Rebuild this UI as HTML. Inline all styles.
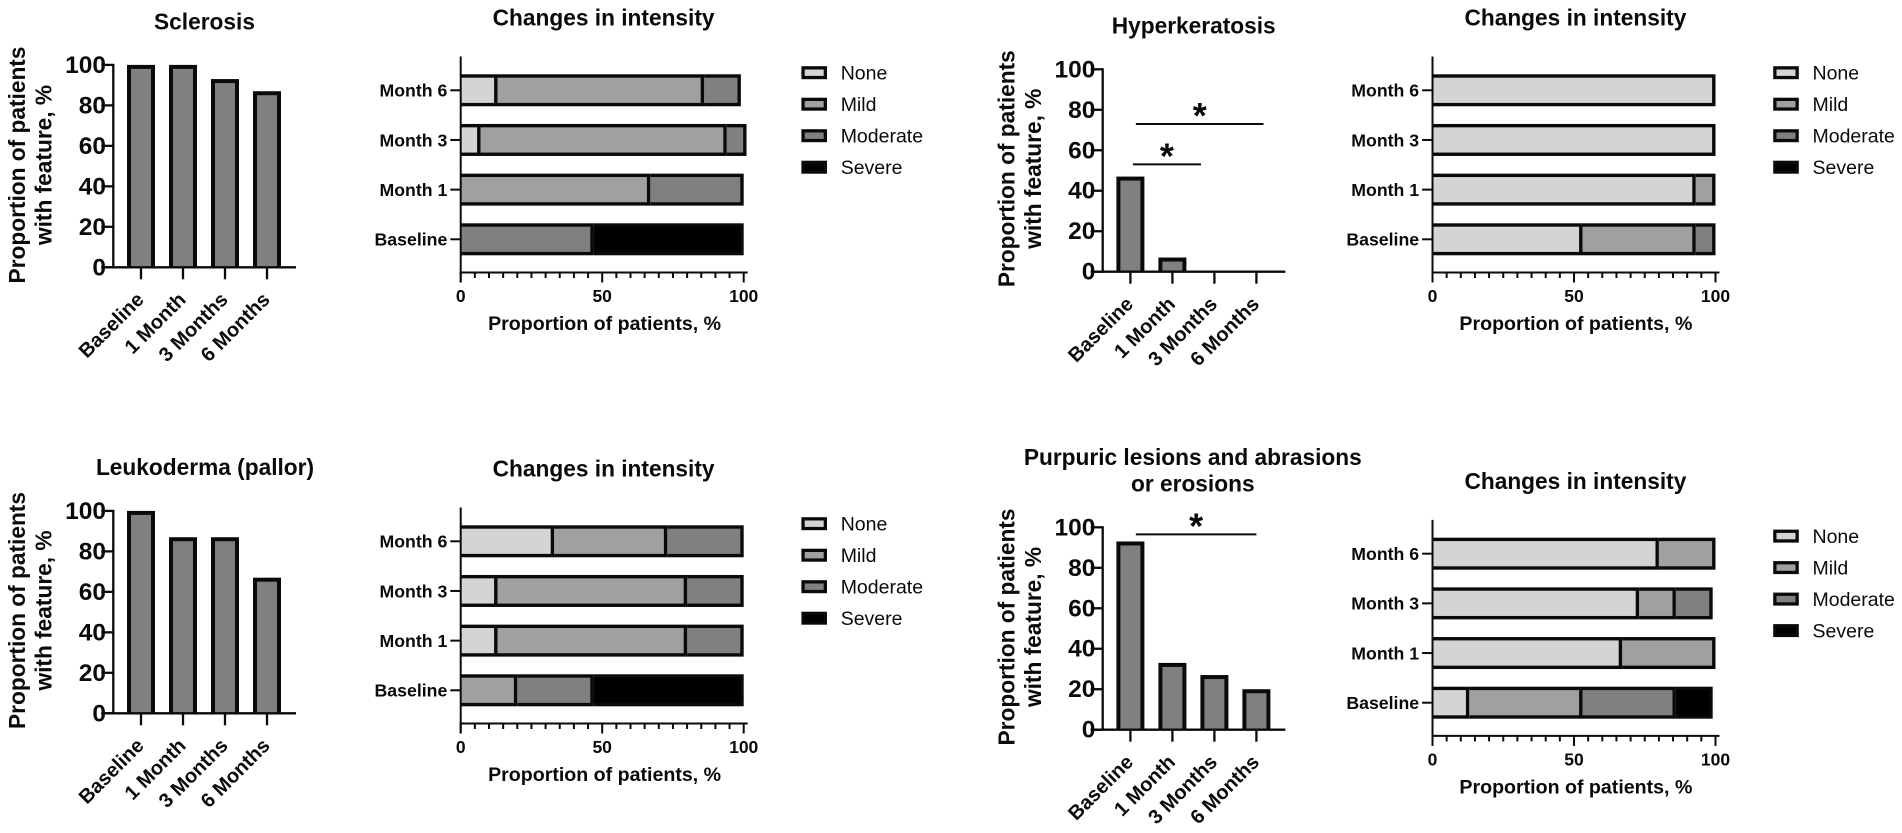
<!DOCTYPE html>
<html lang="en">
<head>
<meta charset="utf-8">
<title>Changes in skin features over time</title>
<style>
html,body{margin:0;padding:0;background:#fff;width:1902px;height:833px;overflow:hidden}
svg{display:block}
text{font-family:"Liberation Sans",Arial,sans-serif;fill:#0a0a0a}
.title{font-size:22.7px;font-weight:bold;text-anchor:middle}
.ytitle{font-size:22.7px;font-weight:bold;text-anchor:middle}
.xtitle{font-size:19.6px;font-weight:bold;text-anchor:middle}
.ytick{font-size:24.5px;font-weight:bold;text-anchor:end}
.xcat{font-size:20px;font-weight:bold;text-anchor:end}
.hcat{font-size:17.7px;font-weight:bold;text-anchor:end}
.htick{font-size:17.5px;font-weight:bold;text-anchor:middle}
.legend{font-size:19.5px}
.star{font-size:36px;font-weight:bold;text-anchor:middle}
</style>
</head>
<body>
<svg id="fig" xmlns="http://www.w3.org/2000/svg" width="1902" height="833" viewBox="0 0 1902 833">
  <rect x="0" y="0" width="1902" height="833" fill="#fff"/>

  <g id="p-scl">
    <text class="title" x="204.5" y="29.3">Sclerosis</text>
    <text class="ytitle" transform="translate(25,165) rotate(-90)">Proportion of patients</text>
    <text class="ytitle" transform="translate(51.7,165) rotate(-90)">with feature, %</text>
  </g>
  <g id="s-scl">
    <text class="title" x="603.6" y="25.7">Changes in intensity</text>
    <text class="xtitle" x="604.6" y="330">Proportion of patients, %</text>
  </g>

  <g id="p-hyp">
    <text class="title" x="1193.7" y="33.3">Hyperkeratosis</text>
    <text class="ytitle" transform="translate(1014.3,168.7) rotate(-90)">Proportion of patients</text>
    <text class="ytitle" transform="translate(1041,168.7) rotate(-90)">with feature, %</text>
  </g>
  <g id="s-hyp">
    <text class="title" x="1575.4" y="25.7">Changes in intensity</text>
    <text class="xtitle" x="1575.9" y="330">Proportion of patients, %</text>
  </g>

  <g id="p-leu">
    <text class="title" x="205" y="475">Leukoderma (pallor)</text>
    <text class="ytitle" transform="translate(25,610.5) rotate(-90)">Proportion of patients</text>
    <text class="ytitle" transform="translate(51.7,610.5) rotate(-90)">with feature, %</text>
  </g>
  <g id="s-leu">
    <text class="title" x="603.6" y="476.7">Changes in intensity</text>
    <text class="xtitle" x="604.6" y="781">Proportion of patients, %</text>
  </g>

  <g id="p-pur">
    <text class="title" x="1192.8" y="465">Purpuric lesions and abrasions</text>
    <text class="title" x="1192.8" y="491.7">or erosions</text>
    <text class="ytitle" transform="translate(1014.3,627) rotate(-90)">Proportion of patients</text>
    <text class="ytitle" transform="translate(1041,627) rotate(-90)">with feature, %</text>
  </g>
  <g id="s-pur">
    <text class="title" x="1575.4" y="489.1">Changes in intensity</text>
    <text class="xtitle" x="1575.9" y="793.4">Proportion of patients, %</text>
  </g>
</svg>

<script>
// ---- shared categories and tick labels ----
const timeCategories = ['Baseline', '1 Month', '3 Months', '6 Months'];
const visitCategories = ['Baseline', 'Month 1', 'Month 3', 'Month 6'];
const proportionTicks = [0, 20, 40, 60, 80, 100];
const intensityMajorTicks = [0, 50, 100];
const intensityMinorStep = 5;
const severityNames = ['None', 'Mild', 'Moderate', 'Severe'];
const severityColors = ['#d4d4d4', '#a0a0a2', '#808080', '#000000'];

// ---- proportion with feature, % ----
const sclerosisValues = [100, 100, 93, 87];
const hyperkeratosisValues = [47, 7, 0, 0];
const leukodermaValues = [100, 87, 87, 67];
const purpuricValues = [93, 33, 27, 20];

// ---- intensity, % of patients (Baseline, Month 1, Month 3, Month 6) ----
const sclerosisNone = [0, 0, 7, 13];
const sclerosisMild = [0, 67, 87, 73];
const sclerosisModerate = [47, 33, 7, 13];
const sclerosisSevere = [53, 0, 0, 0];

const hyperkeratosisNone = [53, 93, 100, 100];
const hyperkeratosisMild = [40, 7, 0, 0];
const hyperkeratosisModerate = [7, 0, 0, 0];
const hyperkeratosisSevere = [0, 0, 0, 0];

const leukodermaNone = [0, 13, 13, 33];
const leukodermaMild = [20, 67, 67, 40];
const leukodermaModerate = [27, 20, 20, 27];
const leukodermaSevere = [53, 0, 0, 0];

const purpuricNone = [13, 67, 73, 80];
const purpuricMild = [40, 33, 13, 20];
const purpuricModerate = [33, 0, 13, 0];
const purpuricSevere = [13, 0, 0, 0];

// ---- significance brackets: [from category, to category, level %] ----
const hyperkeratosisBrackets = [[0.13, 3.17, 73], [0.06, 1.68, 53]];
const purpuricBrackets = [[0.13, 3.0, 96.5]];

const NS = 'http://www.w3.org/2000/svg';
function make(parent, tag, attrs, txt) {
  const el = document.createElementNS(NS, tag);
  for (const k in attrs) el.setAttribute(k, attrs[k]);
  if (txt !== undefined) el.textContent = txt;
  parent.appendChild(el);
  return el;
}
function line(parent, x1, y1, x2, y2, w) {
  return make(parent, 'line', {x1: x1, y1: y1, x2: x2, y2: y2, stroke: '#0a0a0a', 'stroke-width': w});
}

function drawBarChart(id, prefix, values, brackets, x0, y0) {
  const g = document.getElementById(id);
  const plotH = 202.4, firstCat = 27.7, catStep = 42, barW = 28, border = 4;
  const yScale = v => y0 - v * plotH / 100;
  const xScale = i => x0 + firstCat + i * catStep;

  values.forEach((v, i) => {
    const outer = make(g, 'rect', {x: xScale(i) - barW / 2, y: yScale(v), width: barW, height: y0 - yScale(v), fill: '#0a0a0a'});
    
    
    const inner = make(g, 'rect', {x: xScale(i) - barW / 2 + border, y: Math.min(yScale(v) + border, y0), width: barW - 2 * border, height: Math.max(y0 - yScale(v) - border, 0), fill: '#808080'});
    
    
  });

  const yAxis = line(g, x0, yScale(100) - 1, x0, y0 + 1, 2.3);
  
  
  const xAxis = line(g, x0 - 12, y0, x0 + 182.7, y0, 2.3);
  
  

  proportionTicks.forEach(t => {
    const tick = line(g, x0 - 12, yScale(t), x0, yScale(t), 2.3);
    
    
    const lab = make(g, 'text', {'class': 'ytick', x: x0 - 7.3, y: yScale(t) + 8}, t);
    
    
  });

  timeCategories.forEach((c, i) => {
    const tick = line(g, xScale(i), y0, xScale(i), y0 + 12, 2.3);
    
    
    const lab = make(g, 'text', {'class': 'xcat', transform: 'translate(' + (xScale(i) + 4) + ',' + (y0 + 33.5) + ') rotate(-45)'}, c);
    
    
  });

  brackets.forEach((b, i) => {
    const y = yScale(b[2]);
    const br = line(g, xScale(b[0]), y, xScale(b[1]), y, 2);
    
    
    const st = make(g, 'text', {'class': 'star', x: (xScale(b[0]) + xScale(b[1])) / 2, y: y + 4}, '*');
    
    
  });
}

function drawStackedChart(id, prefix, series, x0, axisY) {
  const g = document.getElementById(id);
  const plotW = 283, rowStep = 49.67, barH = 32, border = 3.4;
  const xScale = v => x0 + v * plotW / 100;
  const rowY = i => axisY - 33.2 - i * rowStep;

  visitCategories.forEach((c, r) => {
    let cum = 0;
    series.forEach((vals, s) => {
      const v = vals[r];
      if (v <= 0) return;
      const a = cum, b = cum + v;
      cum = b;
      const top = rowY(r) - barH / 2;
      const seg = make(g, 'rect', {x: xScale(a), y: top, width: xScale(b) - xScale(a), height: barH, fill: '#0a0a0a'});
      
      
      const fillEl = make(g, 'rect', {x: xScale(a), y: top + border, width: xScale(b) - xScale(a) - border, height: barH - 2 * border, fill: severityColors[s]});
      
      
    });
    const tick = line(g, x0 - 10.4, rowY(r), x0, rowY(r), 2);
    
    
    const lab = make(g, 'text', {'class': 'hcat', x: x0 - 13.4, y: rowY(r) + 6.3}, c);
    
    
  });

  const yAxis = line(g, x0, axisY - 216, x0, axisY + 10, 2);
  
  
  const xAxis = line(g, x0 - 1, axisY, x0 + 287, axisY, 2);
  
  

  for (let t = 0; t <= 100; t += intensityMinorStep) {
    const major = intensityMajorTicks.indexOf(t) >= 0;
    const tick = line(g, xScale(t), axisY, xScale(t), axisY + (major ? 10 : 5.5), 2);
    
    
  }
  intensityMajorTicks.forEach(t => {
    const lab = make(g, 'text', {'class': 'htick', x: xScale(t), y: axisY + 29.5}, t);
    
    
  });

  severityNames.forEach((n, i) => {
    const cy = axisY - 199.8 + i * 31.5;
    const outer = make(g, 'rect', {x: x0 + 340.7, y: cy - 6.5, width: 25.6, height: 13, fill: '#0a0a0a'});
    
    
    const inner = make(g, 'rect', {x: x0 + 344, y: cy - 3.2, width: 19, height: 6.4, fill: severityColors[i]});
    
    
    const lab = make(g, 'text', {'class': 'legend', x: x0 + 380, y: cy + 7}, n);
    
    
  });
}

drawBarChart('p-scl', 'sclerosis', sclerosisValues, [], 113.3, 267.3);
drawBarChart('p-hyp', 'hyperkeratosis', hyperkeratosisValues, hyperkeratosisBrackets, 1102.7, 271.7);
drawBarChart('p-leu', 'leukoderma', leukodermaValues, [], 113.3, 713.3);
drawBarChart('p-pur', 'purpuric', purpuricValues, purpuricBrackets, 1102.7, 729.7);

drawStackedChart('s-scl', 'sclerosis-intensity', [sclerosisNone, sclerosisMild, sclerosisModerate, sclerosisSevere], 460.7, 272.5);
drawStackedChart('s-hyp', 'hyperkeratosis-intensity', [hyperkeratosisNone, hyperkeratosisMild, hyperkeratosisModerate, hyperkeratosisSevere], 1432.5, 272.5);
drawStackedChart('s-leu', 'leukoderma-intensity', [leukodermaNone, leukodermaMild, leukodermaModerate, leukodermaSevere], 460.7, 723.5);
drawStackedChart('s-pur', 'purpuric-intensity', [purpuricNone, purpuricMild, purpuricModerate, purpuricSevere], 1432.5, 735.9);
</script>
</body>
</html>
